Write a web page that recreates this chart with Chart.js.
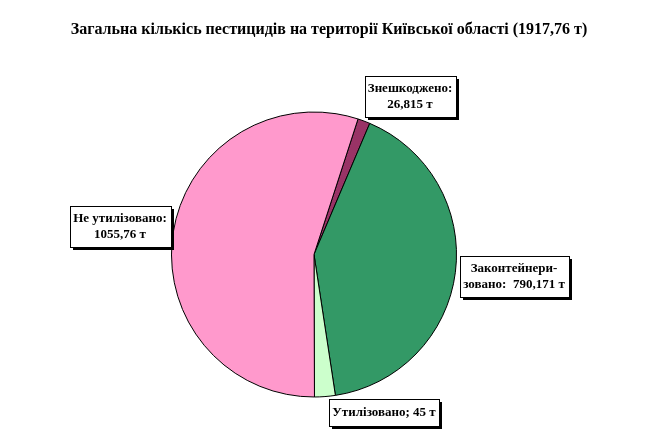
<!DOCTYPE html>
<html>
<head>
<meta charset="utf-8">
<script src="https://cdn.jsdelivr.net/npm/chart.js@4.4.0/dist/chart.umd.min.js"></script>
<style>
html,body{margin:0;padding:0;background:#fff;}
canvas{display:block;}
</style>
</head>
<body>
<canvas id="c" width="653" height="435"></canvas>
<script>
const titleText = 'Загальна кількісь пестицидів на території Київської області (1917,76 т)';
const categories = ['Знешкоджено', 'Законтейнеризовано', 'Утилізовано', 'Не утилізовано'];
const values = [26.815, 790.171, 45, 1055.76];
const labelLines = [
  ['Знешкоджено:', '26,815 т'],
  ['Законтейнери-', 'зовано:  790,171 т'],
  ['Утилізовано; 45 т'],
  ['Не утилізовано:', '1055,76 т']
];
const colors = ['#993366', '#339966', '#CCFFCC', '#FF99CC'];
// label box centres, as offsets from the pie centre (layout only)
const labelOffsets = [[96, -158], [200, 22], [70, 158], [-194, -28]];

const FONT = '"Liberation Serif", "Times New Roman", serif';

const labelPlugin = {
  id: 'boxLabels',
  afterDraw(chart) {
    const ctx = chart.ctx;
    const arc = chart.getDatasetMeta(0).data[0];
    const cx = arc.x, cy = arc.y;
    ctx.save();
    // title
    ctx.font = 'bold 16px ' + FONT;
    ctx.fillStyle = '#000';
    ctx.textAlign = 'center';
    ctx.textBaseline = 'middle';
    ctx.fillText(titleText, 329, 30);
    // labels
    ctx.font = 'bold 13px ' + FONT;
    const lineH = 16;
    labelLines.forEach((lines, i) => {
      const [ox, oy] = labelOffsets[i];
      const bx = cx + ox, by = cy + oy;
      let w = 0;
      lines.forEach(l => { w = Math.max(w, ctx.measureText(l).width); });
      w = Math.round(w + 7);
      const h = Math.round(lines.length * lineH + (lines.length > 1 ? 9 : 11));
      const x0 = Math.round(bx - w / 2) + 0.5, y0 = Math.round(by - h / 2) + 0.5;
      ctx.fillStyle = '#000';
      ctx.fillRect(x0 + 2.5, y0 + 2.5, w, h);
      ctx.fillStyle = '#fff';
      ctx.fillRect(x0, y0, w, h);
      ctx.strokeStyle = '#000';
      ctx.lineWidth = 1;
      ctx.strokeRect(x0, y0, w, h);
      ctx.fillStyle = '#000';
      const startY = by - (lines.length - 1) * lineH / 2;
      lines.forEach((l, k) => ctx.fillText(l, bx, startY + k * lineH));
    });
    ctx.restore();
  }
};

new Chart(document.getElementById('c'), {
  type: 'pie',
  data: {
    labels: categories,
    datasets: [{
      data: values,
      backgroundColor: colors,
      borderColor: '#000',
      borderWidth: 1,
      borderAlign: 'center'
    }]
  },
  options: {
    responsive: false,
    animation: false,
    rotation: 18,
    layout: { padding: { left: 171, right: 196, top: 111, bottom: 37 } },
    plugins: {
      legend: { display: false },
      title: { display: false },
      tooltip: { enabled: false }
    }
  },
  plugins: [labelPlugin]
});
</script>
</body>
</html>
